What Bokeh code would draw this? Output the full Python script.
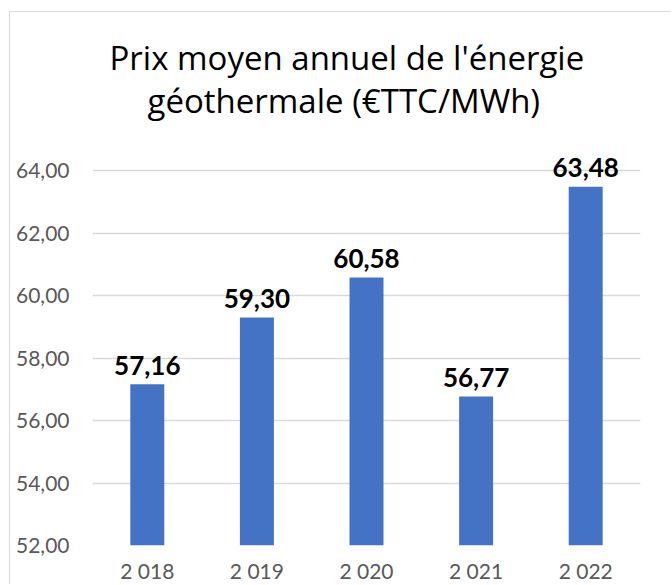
from bokeh.plotting import figure
from bokeh.models import FactorRange, Range1d, FixedTicker, Title, ColumnDataSource
from bokeh.embed import file_html
from bokeh.resources import INLINE
from bokeh.core.properties import value

years = ["2 018", "2 019", "2 020", "2 021", "2 022"]
prices = [57.16, 59.30, 60.58, 56.77, 63.48]
y_ticks = [52, 54, 56, 58, 60, 62, 64]
y_tick_labels = ["52,00", "54,00", "56,00", "58,00", "60,00", "62,00", "64,00"]
title_lines = ["Prix moyen annuel de l'énergie", "géothermale (€TTC/MWh)"]

labels = [f"{v:.2f}".replace(".", ",") for v in prices]
src = ColumnDataSource(dict(x=years, top=prices, lab=labels))

FONT = "Lato"
TFONT = "Open Sans"

p = figure(
    x_range=FactorRange(*years, range_padding=0),
    y_range=Range1d(52, 65.12),
    width=662, height=573,
    output_backend="svg", toolbar_location=None,
    min_border_left=82, min_border_right=32,
    min_border_top=123, min_border_bottom=40,
    margin=(12, 0, 0, 10),
    styles={"box-shadow": "-1px -1px 0 0 #d9d9d9"},
)
p.title = None
p.outline_line_color = None

p.vbar(x="x", top="top", bottom=52, width=0.31, source=src,
       fill_color="#4472C4", line_color=None)
p.text(x="x", y="top", text="lab", source=src, text_align="center",
       text_baseline="alphabetic", y_offset=-19,
       text_font=value(FONT), text_font_style="bold",
       text_font_size="26px", text_color="black")

t2 = Title(text=title_lines[1], align="left", offset=55, standoff=26,
           text_font=TFONT, text_font_size="33px", text_font_style="normal",
           text_color="black")
t1 = Title(text=title_lines[0], align="left", offset=17, standoff=-34,
           text_font=TFONT, text_font_size="33px", text_font_style="normal",
           text_color="black")
p.add_layout(t2, "above")
p.add_layout(t1, "above")

p.yaxis.ticker = FixedTicker(ticks=y_ticks)
p.yaxis.major_label_overrides = dict(zip(y_ticks, y_tick_labels))
p.yaxis.axis_line_color = None
p.yaxis.major_tick_line_color = None
p.yaxis.minor_tick_line_color = None
p.yaxis.major_tick_out = 0
p.yaxis.major_tick_in = 0
p.yaxis.major_label_text_font = FONT
p.yaxis.major_label_text_font_size = "21px"
p.yaxis.major_label_text_color = "#595959"
p.yaxis.major_label_standoff = 23

p.xaxis.axis_line_color = None
p.xaxis.major_tick_line_color = None
p.xaxis.major_tick_out = 0
p.xaxis.major_tick_in = 0
p.xaxis.major_label_text_font = FONT
p.xaxis.major_label_text_font_size = "21px"
p.xaxis.major_label_text_color = "#595959"
p.xaxis.major_label_standoff = 12

p.xgrid.grid_line_color = None
p.ygrid.ticker = FixedTicker(ticks=y_ticks)
p.ygrid.grid_line_color = "#d9d9d9"
p.ygrid.grid_line_width = 1.5

open("out.html", "w").write(file_html(p, INLINE))
